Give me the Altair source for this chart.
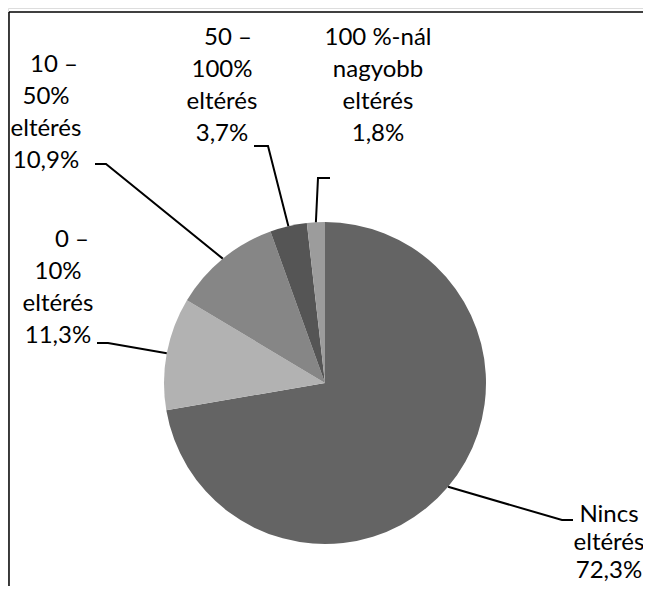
import altair as alt
import pandas as pd
import numpy as np

# ---- data ----
categories = ["Nincs eltérés", "0 – 10% eltérés", "10 – 50% eltérés",
              "50 – 100% eltérés", "100 %-nál nagyobb eltérés"]
values = [72.3, 11.3, 10.9, 3.7, 1.8]
# wrapped label text as it appears in the chart
wrapped = ["Nincs\neltérés", "0 –\n10%\neltérés", "10 –\n50%\neltérés",
           "50 –\n100%\neltérés", "100 %-nál\nnagyobb\neltérés"]

# ---- style / layout (window pixel coordinates) ----
colors = ["#646464", "#b2b2b2", "#868686", "#555555", "#9c9c9c"]
CX, CY, R = 325, 383, 161
W, H = 635, 578
label_pos = [(609, 515), (58, 240), (46, 65), (222, 38), (378, 38)]
line_hs = [28, 32, 32, 32, 32]
first_dx = [0, 14, 8, 6, 0]
elbows = [(562, 520), (108, 343), (106, 164), (268, 146), (318, 178)]
ends = [(573, 520), (97, 343), (95, 164), (254, 146), (330, 178)]
font = "Lato"
fsize = 24

pie = pd.DataFrame({"cat": categories, "value": values, "order": range(len(values))})

# label lines
rows = []
for i, (c, w, v) in enumerate(zip(categories, wrapped, values)):
    lines = w.split("\n") + [f"{v:.1f}".replace(".", ",") + "%"]
    x0, y0 = label_pos[i]
    for j, ln in enumerate(lines):
        rows.append({"cat": c, "text": ln, "x": x0 + (first_dx[i] if j == 0 else 0),
                     "y": y0 + j * line_hs[i]})
labels = pd.DataFrame(rows)

# leader lines: from slice edge (mid angle) to elbow to end
cum = np.cumsum(values)
mids = (cum - np.array(values) / 2) / cum[-1] * 2 * np.pi
lrows = []
for i, c in enumerate(categories):
    ex = CX + R * np.sin(mids[i])
    ey = CY - R * np.cos(mids[i])
    pts = [(ex, ey), elbows[i], ends[i]]
    for k, (px, py) in enumerate(pts):
        lrows.append({"cat": c, "k": k, "x": px, "y": py})
leaders = pd.DataFrame(lrows)

frame = pd.DataFrame([{"x": 9, "y": 12, "x2": 9, "y2": 8 + H},
                      {"x": 9, "y": 12, "x2": 8 + W, "y2": 12}])

xs = alt.Scale(domain=[8, 8 + W], nice=False, zero=False)
ys = alt.Scale(domain=[8 + H, 8], nice=False, zero=False)

arc = alt.Chart(pie).mark_arc(outerRadius=R, stroke=None).encode(
    theta=alt.Theta("value:Q", stack=True),
    order=alt.Order("order:Q"),
    color=alt.Color("cat:N", scale=alt.Scale(domain=categories, range=colors), legend=None),
    x=alt.value(CX - 8),
    y=alt.value(CY - 8),
)

lead = alt.Chart(leaders).mark_line(color="black", strokeWidth=2, strokeJoin="miter").encode(
    x=alt.X("x:Q", scale=xs, axis=None),
    y=alt.Y("y:Q", scale=ys, axis=None),
    detail="cat:N",
    order="k:Q",
)

txt = alt.Chart(labels).mark_text(font=font, fontSize=fsize, color="#000000",
                                  align="center", baseline="middle").encode(
    x=alt.X("x:Q", scale=xs, axis=None),
    y=alt.Y("y:Q", scale=ys, axis=None),
    text="text:N",
)

box = alt.Chart(frame).mark_rule(color="black", strokeWidth=1.5).encode(
    x=alt.X("x:Q", scale=xs, axis=None),
    y=alt.Y("y:Q", scale=ys, axis=None),
    x2="x2:Q",
    y2="y2:Q",
)

chart = alt.layer(box, arc, lead, txt).properties(
    width=W, height=H, padding=0, autosize=alt.AutoSizeParams(type="none")
).configure_view(stroke=None).configure(background="white")

chart.save("out.html", embed_options={"renderer": "svg", "actions": False})
